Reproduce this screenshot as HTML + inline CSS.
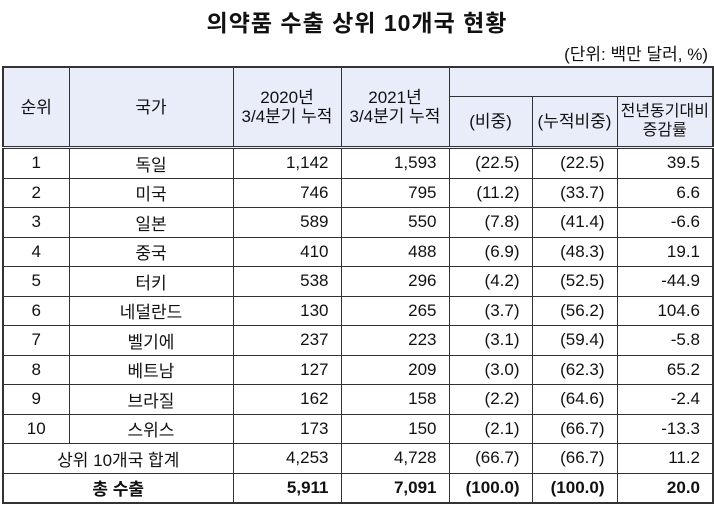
<!DOCTYPE html>
<html><head><meta charset="utf-8">
<style>
body{margin:0;width:714px;height:509px;background:#fff;font-family:"Liberation Sans","Noto Sans CJK KR",sans-serif;color:#111;position:relative;overflow:hidden}
#title{position:absolute;left:0;width:714px;top:4px;text-align:center;font-size:23px;font-weight:bold;letter-spacing:1px}
#unit{position:absolute;right:6px;top:40px;font-size:17px}
table{position:absolute;left:2px;top:66px;border-collapse:collapse;table-layout:fixed;width:710px;font-size:17px}
td{border:1px solid #333;padding:0 12px;height:28.5px;white-space:nowrap}
.h td{background:#e9edf9;text-align:center;line-height:19px;padding:0 2px}
td.c{text-align:center}
td.r{text-align:right}
tr.first td{border-top:3px double #333}
.tot td{font-weight:bold}
table{border:2px solid #333}
</style></head><body>
<div id="title">의약품 수출 상위 10개국 현황</div>
<div id="unit">(단위: 백만 달러, %)</div>
<table>
<colgroup><col style="width:66px"><col style="width:164px"><col style="width:108px"><col style="width:108px"><col style="width:83px"><col style="width:85px"><col style="width:96px"></colgroup>
<tr class="h" style="height:29px"><td rowspan="2" style="height:78px">순위</td><td rowspan="2">국가</td><td rowspan="2">2020년<br>3/4분기 누적</td><td rowspan="2">2021년<br>3/4분기 누적</td><td colspan="3" style="border-bottom:1px solid #333;height:27px"></td></tr>
<tr class="h"><td style="height:49px">(비중)</td><td>(누적비중)</td><td style="font-size:16px">전년동기대비<br>증감률</td></tr>
<tbody id="body"></tbody>
</table>
<script>
const ranks=["1","2","3","4","5","6","7","8","9","10"];
const countries=["독일","미국","일본","중국","터키","네덜란드","벨기에","베트남","브라질","스위스"];
const v2020=["1,142","746","589","410","538","130","237","127","162","173"];
const v2021=["1,593","795","550","488","296","265","223","209","158","150"];
const shares=["(22.5)","(11.2)","(7.8)","(6.9)","(4.2)","(3.7)","(3.1)","(3.0)","(2.2)","(2.1)"];
const cumShares=["(22.5)","(33.7)","(41.4)","(48.3)","(52.5)","(56.2)","(59.4)","(62.3)","(64.6)","(66.7)"];
const growth=["39.5","6.6","-6.6","19.1","-44.9","104.6","-5.8","65.2","-2.4","-13.3"];
const tb=document.getElementById('body');
function cell(tr,txt,cls,name){const td=document.createElement('td');td.textContent=txt;td.className=cls;


tr.appendChild(td);return td;}
ranks.forEach((r,i)=>{const tr=document.createElement('tr');if(i===0)tr.className='first';


cell(tr,r,'c','rank-cell');cell(tr,countries[i],'c','country-cell');cell(tr,v2020[i],'r','value-2020');cell(tr,v2021[i],'r','value-2021');cell(tr,shares[i],'r','share-cell');cell(tr,cumShares[i],'r','cum-share-cell');cell(tr,growth[i],'r','growth-cell');
tb.appendChild(tr);});
const extra=[["상위 10개국 합계","4,253","4,728","(66.7)","(66.7)","11.2",""],["총 수출","5,911","7,091","(100.0)","(100.0)","20.0","tot"]];
extra.forEach(e=>{const tr=document.createElement('tr');tr.className=e[6];


const t=cell(tr,e[0],'c','row-label');t.colSpan=2;t.style.height='26px';
cell(tr,e[1],'r','value-2020');cell(tr,e[2],'r','value-2021');cell(tr,e[3],'r','share-cell');cell(tr,e[4],'r','cum-share-cell');cell(tr,e[5],'r','growth-cell');
tb.appendChild(tr);});
</script>
</body></html>
